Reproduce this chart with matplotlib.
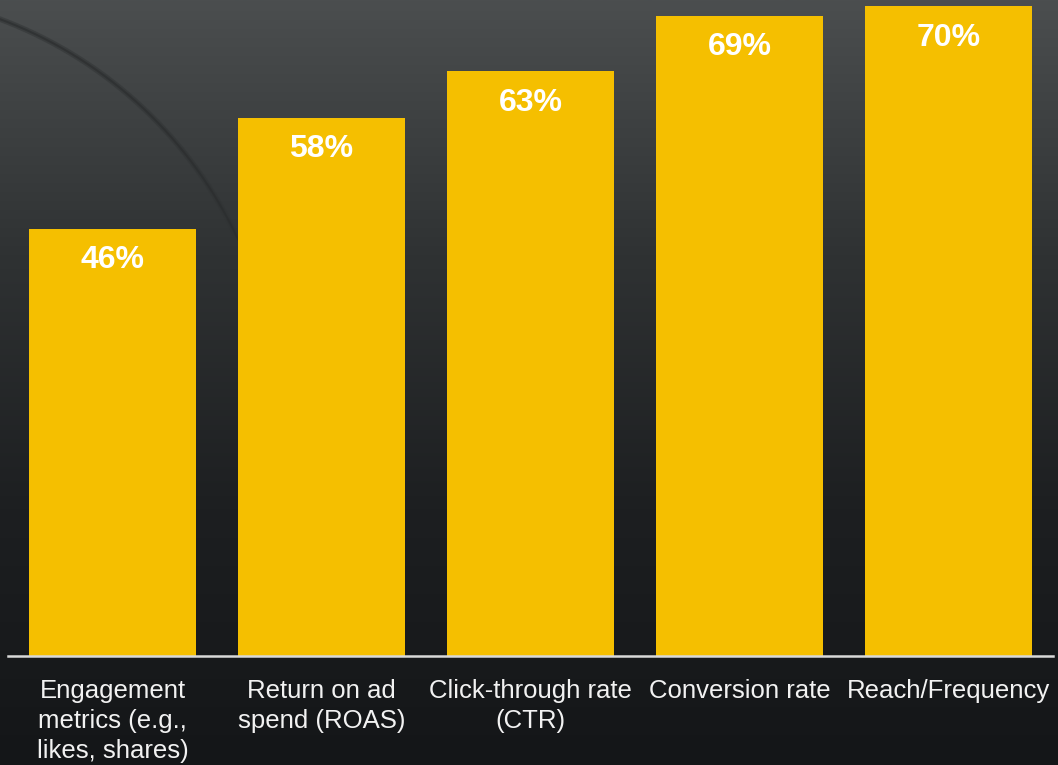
import numpy as np
import matplotlib.pyplot as plt
from matplotlib.colors import LinearSegmentedColormap

categories = [
    "Engagement\nmetrics (e.g.,\nlikes, shares)",
    "Return on ad\nspend (ROAS)",
    "Click-through rate\n(CTR)",
    "Conversion rate",
    "Reach/Frequency",
]
values = [46, 58, 63, 69, 70]

plt.rcParams['font.family'] = ['Liberation Sans', 'DejaVu Sans']

W, H = 1058, 765
fig = plt.figure(figsize=(W / 100, H / 100), dpi=100)

# dark slate backdrop, lighter at the top
bg = fig.add_axes([0, 0, 1, 1], zorder=0)
grad = np.linspace(0, 1, 256).reshape(-1, 1)
cmap = LinearSegmentedColormap.from_list("bg", ["#4b4e4f", "#2f3233", "#1d1f21", "#141618"])
bg.imshow(grad, aspect="auto", cmap=cmap, extent=[0, W, H, 0])
# faint arc sweeping down from the top left corner
t = np.linspace(np.radians(-70), np.radians(-25), 200)
bg.plot(-150 + 428 * np.cos(t), 420 + 428 * np.sin(t),
        color="#303334", lw=4, alpha=0.5)
bg.plot(-150 + 428 * np.cos(t), 420 + 428 * np.sin(t),
        color="#2a2c2d", lw=1.5, alpha=0.6)
bg.set_xlim(0, W)
bg.set_ylim(H, 0)
bg.axis("off")

ax = fig.add_axes([8 / W, 109 / H, 1045 / W, 656 / H], zorder=1)
ax.patch.set_alpha(0)

x = np.arange(len(values))
bars = ax.bar(x, values, width=0.8, color="#f5bf00", zorder=2)

for b, v in zip(bars, values):
    ax.annotate(f"{v}%", (b.get_x() + b.get_width() / 2, v),
                xytext=(0, -22.5), textcoords="offset points",
                ha="center", va="center", color="white",
                fontsize=23, fontweight="bold")

ax.set_xlim(-0.5, 4.5)
ax.set_ylim(0, 70.7)
ax.set_xticks(x)
ax.set_xticklabels(categories, color="#f2f2f2", fontsize=18.5,
                   linespacing=1.33, va="top")
ax.tick_params(axis="x", length=0, pad=16.5)
ax.set_yticks([])
for s in ["top", "right", "left"]:
    ax.spines[s].set_visible(False)
ax.spines["bottom"].set_color("#d9d9d9")
ax.spines["bottom"].set_linewidth(1.8)

fig.savefig("out.png", dpi=100)
